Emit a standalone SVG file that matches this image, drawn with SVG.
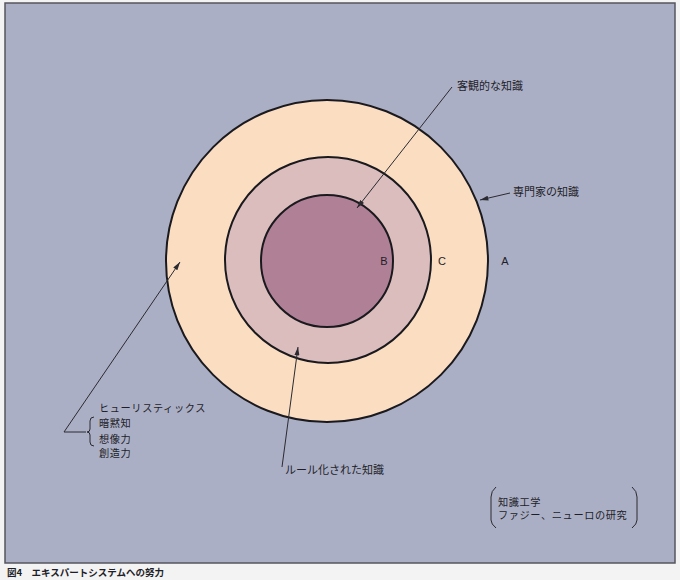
<svg xmlns="http://www.w3.org/2000/svg" width="680" height="580" viewBox="0 0 680 580">
<defs>
<style>
.t{font-family:"Noto Sans CJK JP","Noto Sans CJK SC",sans-serif;font-size:11px;fill:#1e1e28}
.s{font-size:10.2px;letter-spacing:0.6px}
.l{font-family:"Liberation Sans",Arial,sans-serif;font-size:11px;fill:#1e1e28}
.ln{stroke:#2a2a30;stroke-width:1;fill:none}
.c{stroke:#1a1a1e;stroke-width:2}
</style>
<marker id="ah" viewBox="0 0 10 6" refX="10" refY="3" markerWidth="9" markerHeight="5" orient="auto" markerUnits="userSpaceOnUse">
<path d="M0,0 L10,3 L0,6 Z" fill="#2a2a30"/>
</marker>
</defs>
<rect x="0" y="0" width="680" height="580" fill="#f4f3f3"/>
<rect x="5" y="3" width="670" height="560" fill="#abafc5" stroke="#55565e" stroke-width="1.5"/>
<g id="A"><circle class="c" cx="327" cy="261" r="161" fill="#fbddc2"/></g>
<g id="C"><circle class="c" cx="328" cy="260" r="103" fill="#dbbdbd"/></g>
<g id="B"><circle class="c" cx="327" cy="261" r="66" fill="#b08096"/></g>
<g id="labels">
<text class="l" x="384" y="265" text-anchor="middle">B</text>
<text class="l" x="442" y="265" text-anchor="middle">C</text>
<text class="l" x="505" y="265" text-anchor="middle">A</text>
</g>
<g id="connectors">
<line class="ln" x1="452" y1="87" x2="357" y2="208" marker-end="url(#ah)"/>
<line class="ln" x1="510" y1="193" x2="480" y2="200" marker-end="url(#ah)"/>
<line class="ln" x1="282" y1="467" x2="298" y2="347" marker-end="url(#ah)"/>
<polyline class="ln" points="86,432 64,432 180,262" marker-end="url(#ah)"/>
</g>
<g id="objective"><text class="t" x="457" y="90">客観的な知識</text></g>
<g id="expert"><text class="t" x="513" y="196">専門家の知識</text></g>
<g id="rule"><text class="t" x="285" y="474">ルール化された知識</text></g>
<g id="heuristics">
<path class="ln" d="M94,417 Q90,417 90,421 L90,429 Q90,432 87,432 Q90,432 90,435 L90,442 Q90,446 94,446"/>
<text class="t s" x="99" y="412">ヒューリスティックス</text>
<text class="t s" x="99" y="427">暗黙知</text>
<text class="t s" x="99" y="442.5">想像力</text>
<text class="t s" x="99" y="457">創造力</text>
</g>
<g id="engineering">
<path class="ln" d="M496,487 Q491,491 491,497 L491,520 Q491,524 496,528"/>
<path class="ln" d="M632,487 Q637,491 637,497 L637,520 Q637,524 632,528"/>
<text class="t s" x="498" y="505.5">知識工学</text>
<text class="t s" x="498" y="519">ファジー、ニューロの研究</text>
</g>
<text class="t" x="7" y="576" style="font-size:9.5px;font-weight:bold">図4　エキスパートシステムへの努力</text>
</svg>
